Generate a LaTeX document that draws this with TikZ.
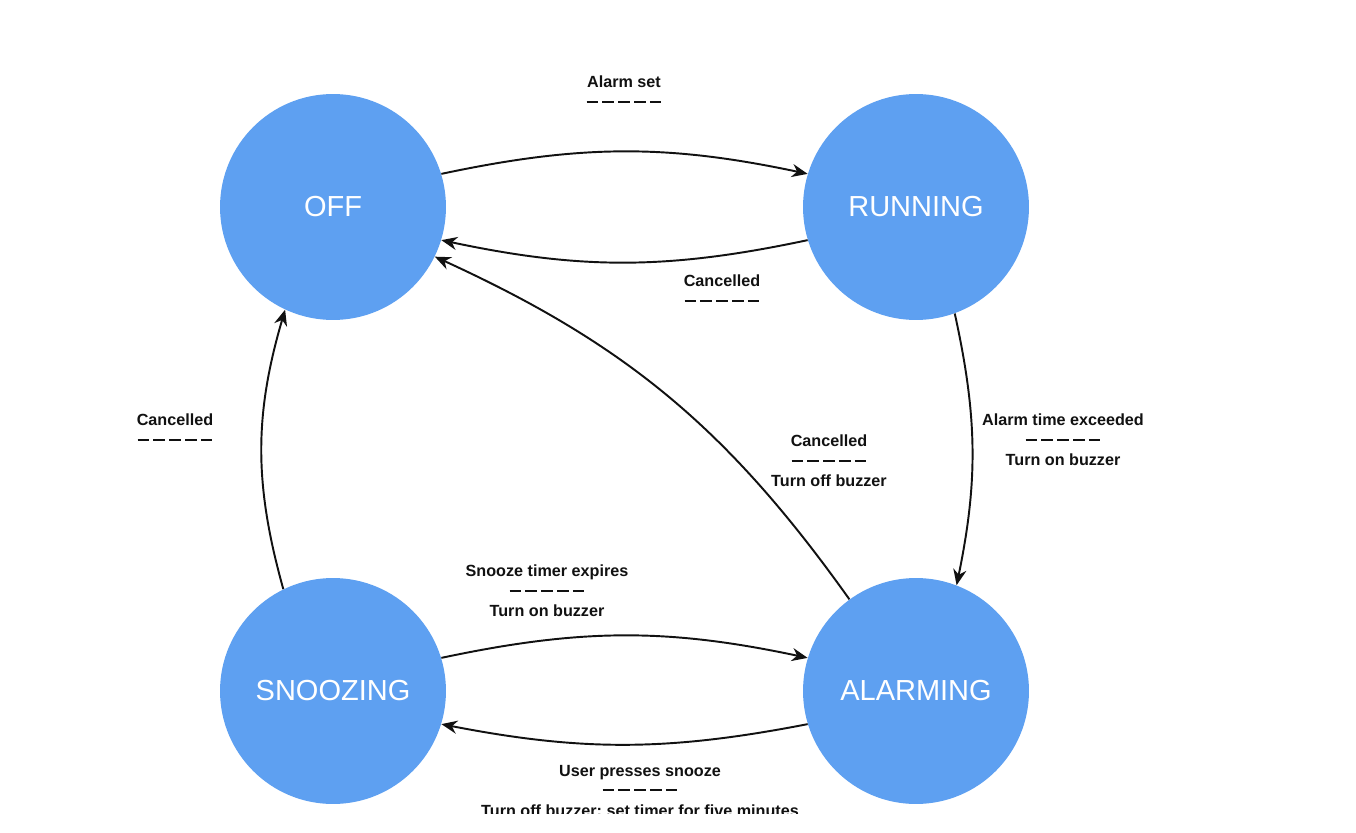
\documentclass[tikz,border=0pt]{standalone}
\usepackage{fontspec}
\setmainfont{Liberation Sans}
\usepackage{xcolor}
\usepackage{tikz}
\usetikzlibrary{arrows.meta, positioning}

\newcommand{\dashrow}{\rule[0.3em]{6.6pt}{1.2pt}\hspace{2.4pt}\rule[0.3em]{6.6pt}{1.2pt}\hspace{2.4pt}\rule[0.3em]{6.6pt}{1.2pt}\hspace{2.4pt}\rule[0.3em]{6.6pt}{1.2pt}\hspace{2.4pt}\rule[0.3em]{6.6pt}{1.2pt}}

\begin{document}
\begin{tikzpicture}[x=0.02cm, y=-0.02cm,
  state/.style={circle, fill=stateblue, text=white, minimum size=4.52cm, inner sep=0pt, font=\fontsize{16.5}{19}\selectfont},
  trans/.style={-{Stealth[length=9pt, width=7.5pt]}, line width=1.1pt, draw=textdark},
  evt/.style={align=center, text=textdark, font=\fontsize{9.2}{11.4}\selectfont\bfseries}]
  \definecolor{stateblue}{HTML}{5EA0F1}
  \definecolor{textdark}{HTML}{111111}

  \useasboundingbox[fill=white] (0,0) rectangle (1356,832);

  % states
  \node[state] (off) at (333,207) {OFF};
  \node[state] (running) at (916,207) {RUNNING};
  \node[state] (snoozing) at (333,691) {SNOOZING};
  \node[state] (alarming) at (916,691) {ALARMING};

  % transitions
  \draw[trans] (off.17) to[bend left=12] (running.163);
  \draw[trans] (running.197) to[bend left=12] (off.343);
  \draw[trans] (running.290) to[bend left=12] (alarming.69);
  \draw[trans] (alarming.126) to[bend right=15] (off.334);
  \draw[trans] (snoozing.116) to[bend left=16] (off.245);
  \draw[trans] (snoozing.17) to[bend left=12] (alarming.163);
  \draw[trans] (alarming.197) to[bend left=11] (snoozing.343);

  % labels
  \node[evt] (setlbl) at (624,92) {Alarm set\\\dashrow};
  \node[evt] (cancel1) at (722,291) {Cancelled\\\dashrow};
  \node[evt] (exceed) at (1063,440) {Alarm time exceeded\\\dashrow\\Turn on buzzer};
  \node[evt] (cancel2) at (829,461) {Cancelled\\\dashrow\\Turn off buzzer};
  \node[evt] (cancel3) at (175,430) {Cancelled\\\dashrow};
  \node[evt] (expire) at (547,591) {Snooze timer expires\\\dashrow\\Turn on buzzer};
  \begin{scope}
    \clip (0,0) rectangle (1356,813);
    \node[evt] (press) at (640,792) {User presses snooze\\\dashrow\\Turn off buzzer; set timer for five minutes};
  \end{scope}
\end{tikzpicture}
\end{document}
